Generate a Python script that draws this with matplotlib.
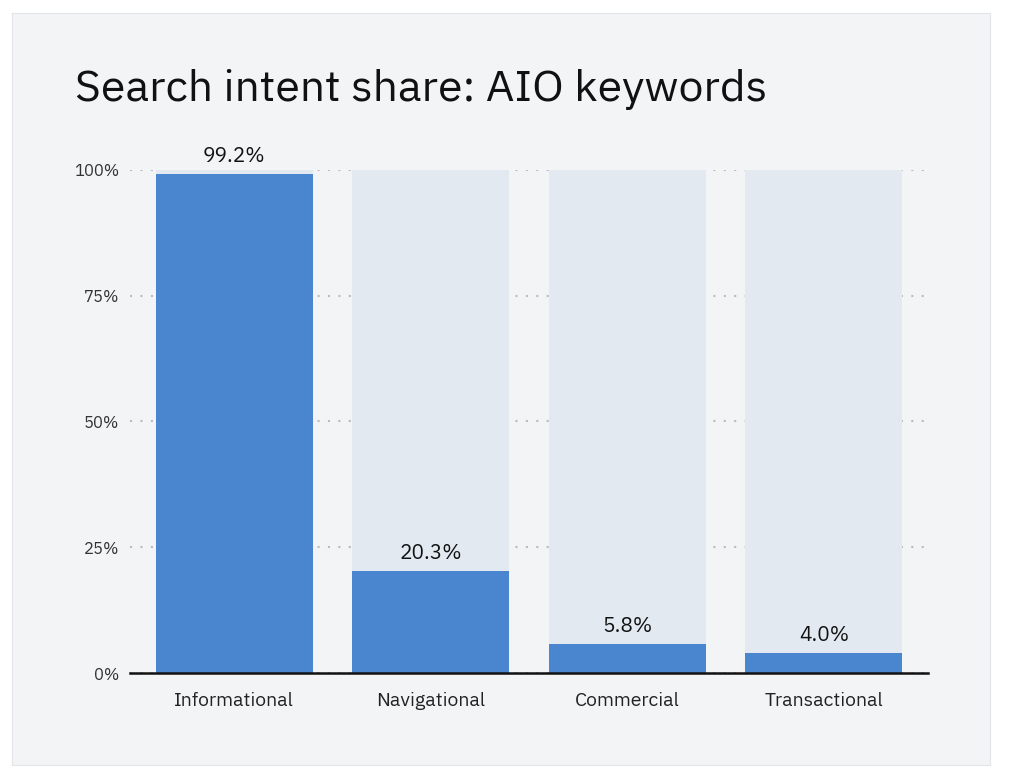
import matplotlib.pyplot as plt

categories = ["Informational", "Navigational", "Commercial", "Transactional"]
shares = [99.2, 20.3, 5.8, 4.0]
labels = ["99.2%", "20.3%", "5.8%", "4.0%"]

plt.rcParams['font.family'] = ['IBM Plex Sans', 'Noto Sans', 'DejaVu Sans']

fig = plt.figure(figsize=(10.24, 7.83), dpi=100)
fig.patch.set_facecolor("white")

# card background as an axes drawn underneath
bg = fig.add_axes([12 / 1024, 18 / 783, 978 / 1024, 752 / 783], zorder=-1)
bg.set_facecolor("#f3f4f6")
bg.set_xticks([])
bg.set_yticks([])
for s in bg.spines.values():
    s.set_color("#e2e4e8")

fig.text(75 / 1024, 1 - 90 / 783, "Search intent share: AIO keywords",
         fontsize=32, color="#111111", va="center", ha="left")

ax = fig.add_axes([130 / 1024, 110 / 783, 798 / 1024, 503 / 783])
ax.set_facecolor("none")
x = range(len(categories))
ax.bar(x, [100] * len(categories), width=0.8, color="#e3e9f1", zorder=1)
ax.bar(x, shares, width=0.8, color="#4a86d0", zorder=2)
for i, (v, t) in enumerate(zip(shares, labels)):
    ax.text(i, v + 1.5, t, ha="center", va="bottom", fontsize=15,
            fontweight="bold", color="#111111", zorder=3)

ax.set_xlim(-0.53, 3.53)
ax.set_ylim(0, 100)
ax.set_yticks([0, 25, 50, 75, 100])
ax.set_yticklabels(["0%", "25%", "50%", "75%", "100%"])
ax.yaxis.grid(True, linestyle=(0, (1, 4)), color="#bbbbbb", linewidth=1.5, zorder=0)
ax.set_axisbelow(True)
ax.set_xticks(list(x))
ax.set_xticklabels(categories)
ax.tick_params(axis="x", length=0, pad=14, labelsize=14, labelcolor="#222222")
ax.tick_params(axis="y", length=0, pad=8, labelsize=12, labelcolor="#333333")
for s in ["top", "right", "left"]:
    ax.spines[s].set_visible(False)
ax.spines["bottom"].set_color("#111111")
ax.spines["bottom"].set_linewidth(1.8)
ax.spines["bottom"].set_zorder(4)

fig.savefig("out.png", dpi=100)
